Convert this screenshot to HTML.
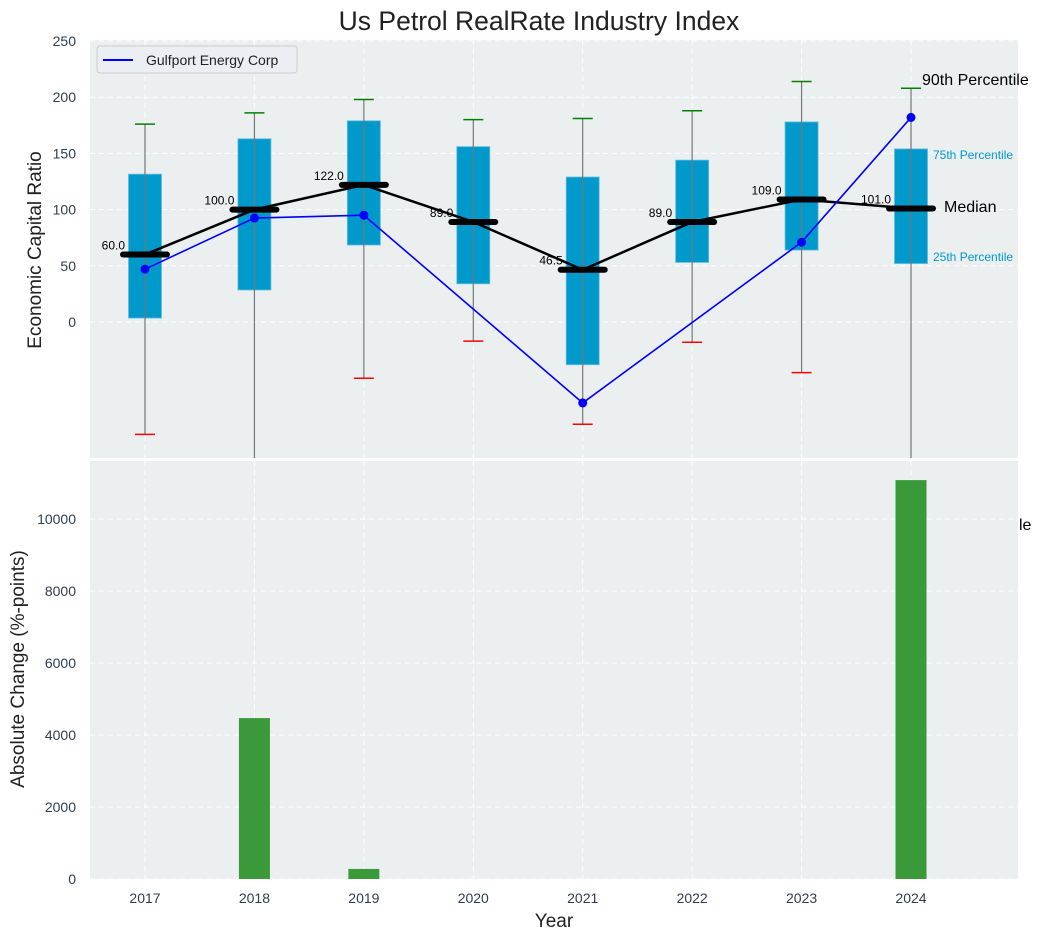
<!DOCTYPE html>
<html><head><meta charset="utf-8"><style>
body{margin:0;background:#fff;font-family:"Liberation Sans","DejaVu Sans",sans-serif;}
svg text{font-family:"Liberation Sans","DejaVu Sans",sans-serif;}
</style></head><body>
<svg id="c" width="1042" height="940" xmlns="http://www.w3.org/2000/svg">
<defs>
<clipPath id="clipTop"><rect x="90" y="40" width="928" height="418"/></clipPath>
<clipPath id="clipBot"><rect x="90" y="461" width="928" height="418"/></clipPath>
</defs>
</svg>
<script>
const years=[2017,2018,2019,2020,2021,2022,2023,2024];
const p25=[3.5,28.5,68.5,34,-38,53,64,52];
const p75=[131.5,163,179,156,129,144,178,154];
const p90=[176,186,198,180,181,188,214,208];
const p10=[-100,-140,-50,-17,-91,-18,-45,-140];
const medians=[60,100,122,89,46.5,89,109,101];
const gulfX=[2017,2018,2019,2021,2023,2024];
const gulfY=[47,92.5,95,-72,71,182];
const changeYears=[2018,2019,2024];
const changeVals=[4470,280,11080];
const topTicks=[0,50,100,150,200,250];
const botTicks=[0,2000,4000,6000,8000,10000];

const NS="http://www.w3.org/2000/svg";
const svg=document.getElementById('c');
function mk(tag,attrs,parent,text){const e=document.createElementNS(NS,tag);for(const k in attrs)e.setAttribute(k,attrs[k]);if(text!==undefined)e.textContent=text;(parent||svg).appendChild(e);return e;}
const L=90,R=1018,T1=40,B1=458,T2=461,B2=879;
const xs=v=>145+(v-2017)*109.43;
const yt=v=>322-v*1.124;
const yb=v=>879-v*0.036;

let e=mk('rect',{x:L,y:T1,width:R-L,height:B1-T1,fill:'#ebeff0'});


e=mk('rect',{x:L,y:T2,width:R-L,height:B2-T2,fill:'#ebeff0'});



e=mk('text',{x:539,y:30,'text-anchor':'middle','font-size':26.5,fill:'#222'},svg,'Us Petrol RealRate Industry Index');



const gTop=mk('g',{'clip-path':'url(#clipTop)'});
const gBot=mk('g',{'clip-path':'url(#clipBot)'});
topTicks.forEach(t=>{
  mk('line',{x1:L,x2:R,y1:yt(t),y2:yt(t),stroke:'#fff','stroke-dasharray':'5,4','stroke-width':1},gTop);
  e=mk('text',{x:76,y:yt(t)+5,'text-anchor':'end','font-size':14,fill:'#2e3e50'},svg,String(t));
  
  
});
botTicks.forEach(t=>{
  mk('line',{x1:L,x2:R,y1:yb(t),y2:yb(t),stroke:'#fff','stroke-dasharray':'5,4'},gBot);
  e=mk('text',{x:76,y:yb(t)+5,'text-anchor':'end','font-size':14,fill:'#2e3e50'},svg,String(t));
  
  
});
years.forEach(y=>{
  mk('line',{x1:xs(y),x2:xs(y),y1:T1,y2:B1,stroke:'#fff','stroke-dasharray':'5,4'},gTop);
  mk('line',{x1:xs(y),x2:xs(y),y1:T2,y2:B2,stroke:'#fff','stroke-dasharray':'5,4'},gBot);
  e=mk('text',{x:xs(y),y:903,'text-anchor':'middle','font-size':14,fill:'#2e3e50'},svg,String(y));
  
  
});

years.forEach((y,i)=>{
  const cx=xs(y);
  e=mk('rect',{x:cx-16.5,y:yt(p75[i]),width:33,height:yt(p25[i])-yt(p75[i]),fill:'#0099cc',stroke:'#5fbde0','stroke-width':0.8},gTop);
  
  
  e=mk('line',{x1:cx,x2:cx,y1:yt(p90[i]),y2:yt(p10[i]),stroke:'#777','stroke-width':1.2},gTop);
  
  
  e=mk('line',{x1:cx-10,x2:cx+10,y1:yt(p90[i]),y2:yt(p90[i]),stroke:'green','stroke-width':1.5},gTop);
  
  
  e=mk('line',{x1:cx-10,x2:cx+10,y1:yt(p10[i]),y2:yt(p10[i]),stroke:'red','stroke-width':1.5},gTop);
  
  
});
e=mk('polyline',{points:years.map((y,i)=>xs(y)+','+yt(medians[i])).join(' '),fill:'none',stroke:'#000','stroke-width':2.5},gTop);


years.forEach((y,i)=>{
  const cx=xs(y);
  e=mk('line',{x1:cx-22,x2:cx+22,y1:yt(medians[i]),y2:yt(medians[i]),stroke:'#000','stroke-width':6,'stroke-linecap':'round'},gTop);
  
  
  e=mk('text',{x:cx-20,y:yt(medians[i])-5,'text-anchor':'end','font-size':12,fill:'#000'},svg,medians[i].toFixed(1));
  
  
});
e=mk('polyline',{points:gulfX.map((x,i)=>xs(x)+','+yt(gulfY[i])).join(' '),fill:'none',stroke:'#0000ff','stroke-width':1.6},gTop);


gulfX.forEach((x,i)=>{
  e=mk('circle',{cx:xs(x),cy:yt(gulfY[i]),r:4.5,fill:'#0000ff'},gTop);
  
  
});
const xa=xs(2024);
e=mk('text',{x:xa+11,y:85,'font-size':16,fill:'#000'},svg,'90th Percentile');

e=mk('text',{x:xa+22,y:159,'font-size':12,fill:'#0099cc','clip-path':'url(#clipTop)'},svg,'75th Percentile');

e=mk('text',{x:xa+22,y:261,'font-size':12,fill:'#0099cc','clip-path':'url(#clipTop)'},svg,'25th Percentile');

e=mk('text',{x:xa+33,y:212,'font-size':16,fill:'#000'},svg,'Median');

e=mk('text',{x:1019,y:530,'font-size':16,fill:'#000'},svg,'le');


const lg=mk('g',{});


mk('rect',{x:97,y:46,width:200,height:27,rx:3,fill:'#ebeef2',stroke:'#ccc'},lg);
mk('line',{x1:103,x2:133,y1:60,y2:60,stroke:'#0000ff','stroke-width':2},lg);
mk('text',{x:146,y:65,'font-size':14,fill:'#222'},lg,'Gulfport Energy Corp');

changeYears.forEach((y,i)=>{
  e=mk('rect',{x:xs(y)-15.5,y:yb(changeVals[i]),width:31,height:yb(0)-yb(changeVals[i]),fill:'#3a9a3a'},gBot);
  
  
});

e=mk('text',{x:554,y:927,'text-anchor':'middle','font-size':19,fill:'#222'},svg,'Year');

e=mk('text',{x:0,y:0,'text-anchor':'middle','font-size':19,fill:'#222',transform:'translate(41,250) rotate(-90)'},svg,'Economic Capital Ratio');

e=mk('text',{x:0,y:0,'text-anchor':'middle','font-size':19,fill:'#222',transform:'translate(24,669) rotate(-90)'},svg,'Absolute Change (%-points)');

</script>
</body></html>
